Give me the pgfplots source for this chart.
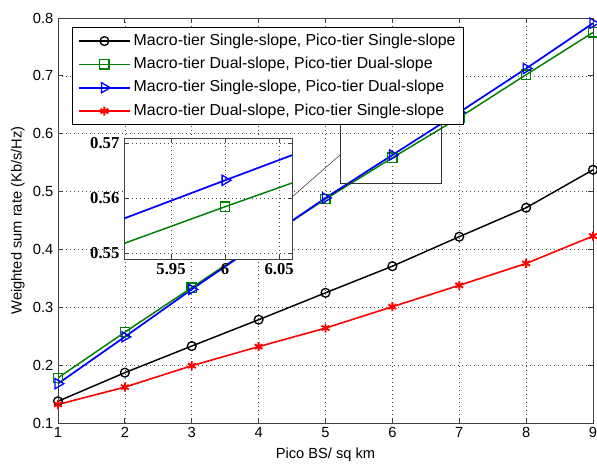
\documentclass[border=0pt]{standalone}
\usepackage{fontspec}
\setmainfont{Liberation Sans}
\newfontfamily\insetfont{Liberation Serif}
\usepackage{pgfplots}
\pgfplotsset{compat=1.18}
\usepackage{pgfplotstable}
\definecolor{mgreen}{rgb}{0,0.5,0}
\pgfplotstableread{
x y
1 0.1376
2 0.187
3 0.233
4 0.2785
5 0.325
6 0.371
7 0.422
8 0.472
9 0.5376
}\black
\pgfplotstableread{
x y
1 0.178
2 0.257
3 0.334
4 0.411
5 0.487
6 0.5584
7 0.628
8 0.702
9 0.775
}\green
\pgfplotstableread{
x y
1 0.168
2 0.249
3 0.331
4 0.410
5 0.489
6 0.5632
7 0.637
8 0.7127
9 0.791
}\blue
\pgfplotstableread{
x y
1 0.132
2 0.162
3 0.199
4 0.232
5 0.264
6 0.301
7 0.338
8 0.3758
9 0.423
}\red
\pgfplotsset{
  mstyle/.style={
    scale only axis,
    tick align=inside,
    major tick length=4pt,
    axis line style={black!75, line width=0.6pt},
    every tick/.style={black!75, line width=0.6pt},
    grid=major,
    major grid style={black!70, line width=0.5pt, dash pattern=on 0.7pt off 2.3pt},
    /pgf/number format/assume math mode=true,
  },
  s1/.style={black, line width=1.1pt, mark=o, mark size=3.3pt, mark options={solid, line width=1pt}},
  s2/.style={mgreen, line width=1.1pt, mark=square, mark size=3.5pt, mark options={solid, line width=1pt}},
  s3/.style={blue, line width=1.3pt, mark=triangle, mark size=4.4pt, mark options={solid, line width=1pt, rotate=-90}},
  s4/.style={red, line width=1.2pt, mark=asterisk, mark size=3.4pt, mark options={solid, line width=1.4pt}},
}
\begin{document}
\begin{tikzpicture}
\path[use as bounding box] (-43.5pt,-30.75pt) rectangle (404.25pt,317.25pt);
\begin{axis}[
  mstyle,
  width=401.25pt, height=303.75pt,
  xmin=1, xmax=9, ymin=0.1, ymax=0.8,
  xtick={1,...,9},
  ytick={0.1,0.2,0.3,0.4,0.5,0.6,0.7,0.8},
  yticklabel style={/pgf/number format/fixed, /pgf/number format/precision=1},
  ticklabel style={font=\fontsize{11}{13}\selectfont},
  label style={font=\fontsize{11}{13}\selectfont},
  xlabel={Pico BS/ sq km},
  ylabel={Weighted sum rate (Kb/s/Hz)},
  xlabel style={at={(axis description cs:0.5,-0.079)}, anchor=center},
  ylabel style={at={(axis description cs:-0.075,0.5)}, anchor=center},
  legend style={at={(rel axis cs:0.0262,0.9778)}, anchor=north west,
    draw=black, line width=0.6pt, fill=white,
    font=\fontsize{11.9}{13}\selectfont,
    inner xsep=4pt, inner ysep=1.5pt,
    nodes={inner ysep=3pt, text height=8.8pt, text depth=2.7pt}},
  legend cell align=left,
  legend image code/.code={\draw[mark repeat=2,mark phase=2,#1] plot coordinates {(0cm,0cm) (0.68cm,0cm) (1.36cm,0cm)};},
]
\addplot[s1] table[x=x,y=y]{\black};
\addplot[s2] table[x=x,y=y]{\green};
\addplot[s3] table[x=x,y=y]{\blue};
\addplot[s4] table[x=x,y=y]{\red};
\draw[black!80, line width=0.6pt] (axis cs:5.217,0.5148) rectangle (axis cs:6.727,0.629);
\draw[black!80, line width=0.4pt] (axis cs:4.499,0.4906) -- (axis cs:5.217,0.5632);
\legend{{Macro-tier Single-slope, Pico-tier Single-slope},
        {Macro-tier Dual-slope, Pico-tier Dual-slope},
        {Macro-tier Single-slope, Pico-tier Dual-slope},
        {Macro-tier Dual-slope, Pico-tier Single-slope}}
\end{axis}
\begin{axis}[
  mstyle,
  at={(49.5pt,123pt)}, anchor=south west,
  width=126pt, height=90.75pt,
  xmin=5.9065, xmax=6.062, ymin=0.5489, ymax=0.5709,
  xtick={5.95,6,6.05}, ytick={0.55,0.56,0.57},
  xticklabels={5.95,6,6.05}, yticklabels={0.55,0.56,0.57},
  ticklabel style={font=\insetfont\bfseries\fontsize{12.5}{14}\selectfont},
  axis background/.style={fill=white},
  major tick length=3pt,
]
\addplot[s1] table[x=x,y=y]{\black};
\addplot[s2] table[x=x,y=y]{\green};
\addplot[s3] table[x=x,y=y]{\blue};
\addplot[s4] table[x=x,y=y]{\red};
\end{axis}
\end{tikzpicture}
\end{document}
